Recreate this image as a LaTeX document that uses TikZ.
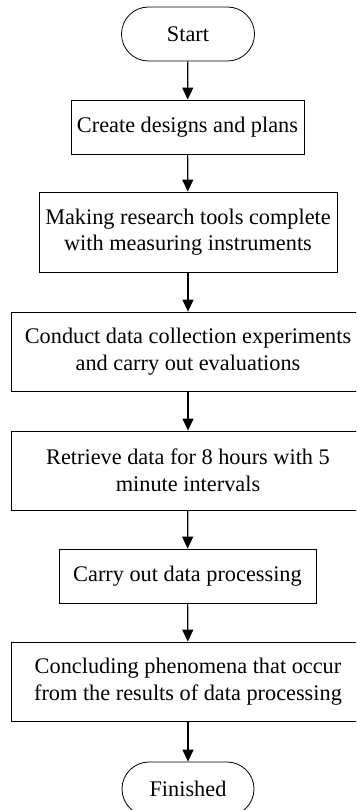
\documentclass[tikz,border=0pt]{standalone}
\usepackage{fontspec}
\setmainfont{Liberation Serif}
\usetikzlibrary{arrows.meta}
\begin{document}
\begin{tikzpicture}[x=1pt,y=-1pt,
  box/.style={draw,line width=0.8pt,inner sep=0pt,align=center,
    font=\fontsize{22.3}{26.5}\selectfont},
  term/.style={box,rounded corners=27pt},
  flow/.style={-{Triangle[length=12pt,width=11pt]},line width=1.2pt}]
\useasboundingbox (0,0) rectangle (356,810);
\clip (0,0) rectangle (356,810);
\node[term,minimum width=133pt,minimum height=54pt] (start) at (188,34) {Start};
\node[box,minimum width=233pt,minimum height=54pt] (design) at (187.5,127) {Create designs and plans};
\node[box,minimum width=298pt,minimum height=80pt] (tools) at (188,232) {Making research tools complete\\with measuring instruments};
\node[box,minimum width=354pt,minimum height=79pt] (collect) at (188,351.5) {Conduct data collection experiments\\and carry out evaluations};
\node[box,minimum width=354pt,minimum height=79pt] (retrieve) at (188,470.5) {Retrieve data for 8 hours with 5\\minute intervals};
\node[box,minimum width=257pt,minimum height=54pt] (process) at (187.5,576) {Carry out data processing};
\node[box,minimum width=354pt,minimum height=79pt] (conclude) at (188,681.5) {Concluding phenomena that occur\\from the results of data processing};
\node[term,minimum width=132pt,minimum height=54pt] (finish) at (188,789) {Finished};
\draw[flow] (start) -- (design);
\draw[flow] (design) -- (tools);
\draw[flow] (tools) -- (collect);
\draw[flow] (collect) -- (retrieve);
\draw[flow] (retrieve) -- (process);
\draw[flow] (process) -- (conclude);
\draw[flow] (conclude) -- (finish);
\end{tikzpicture}
\end{document}
